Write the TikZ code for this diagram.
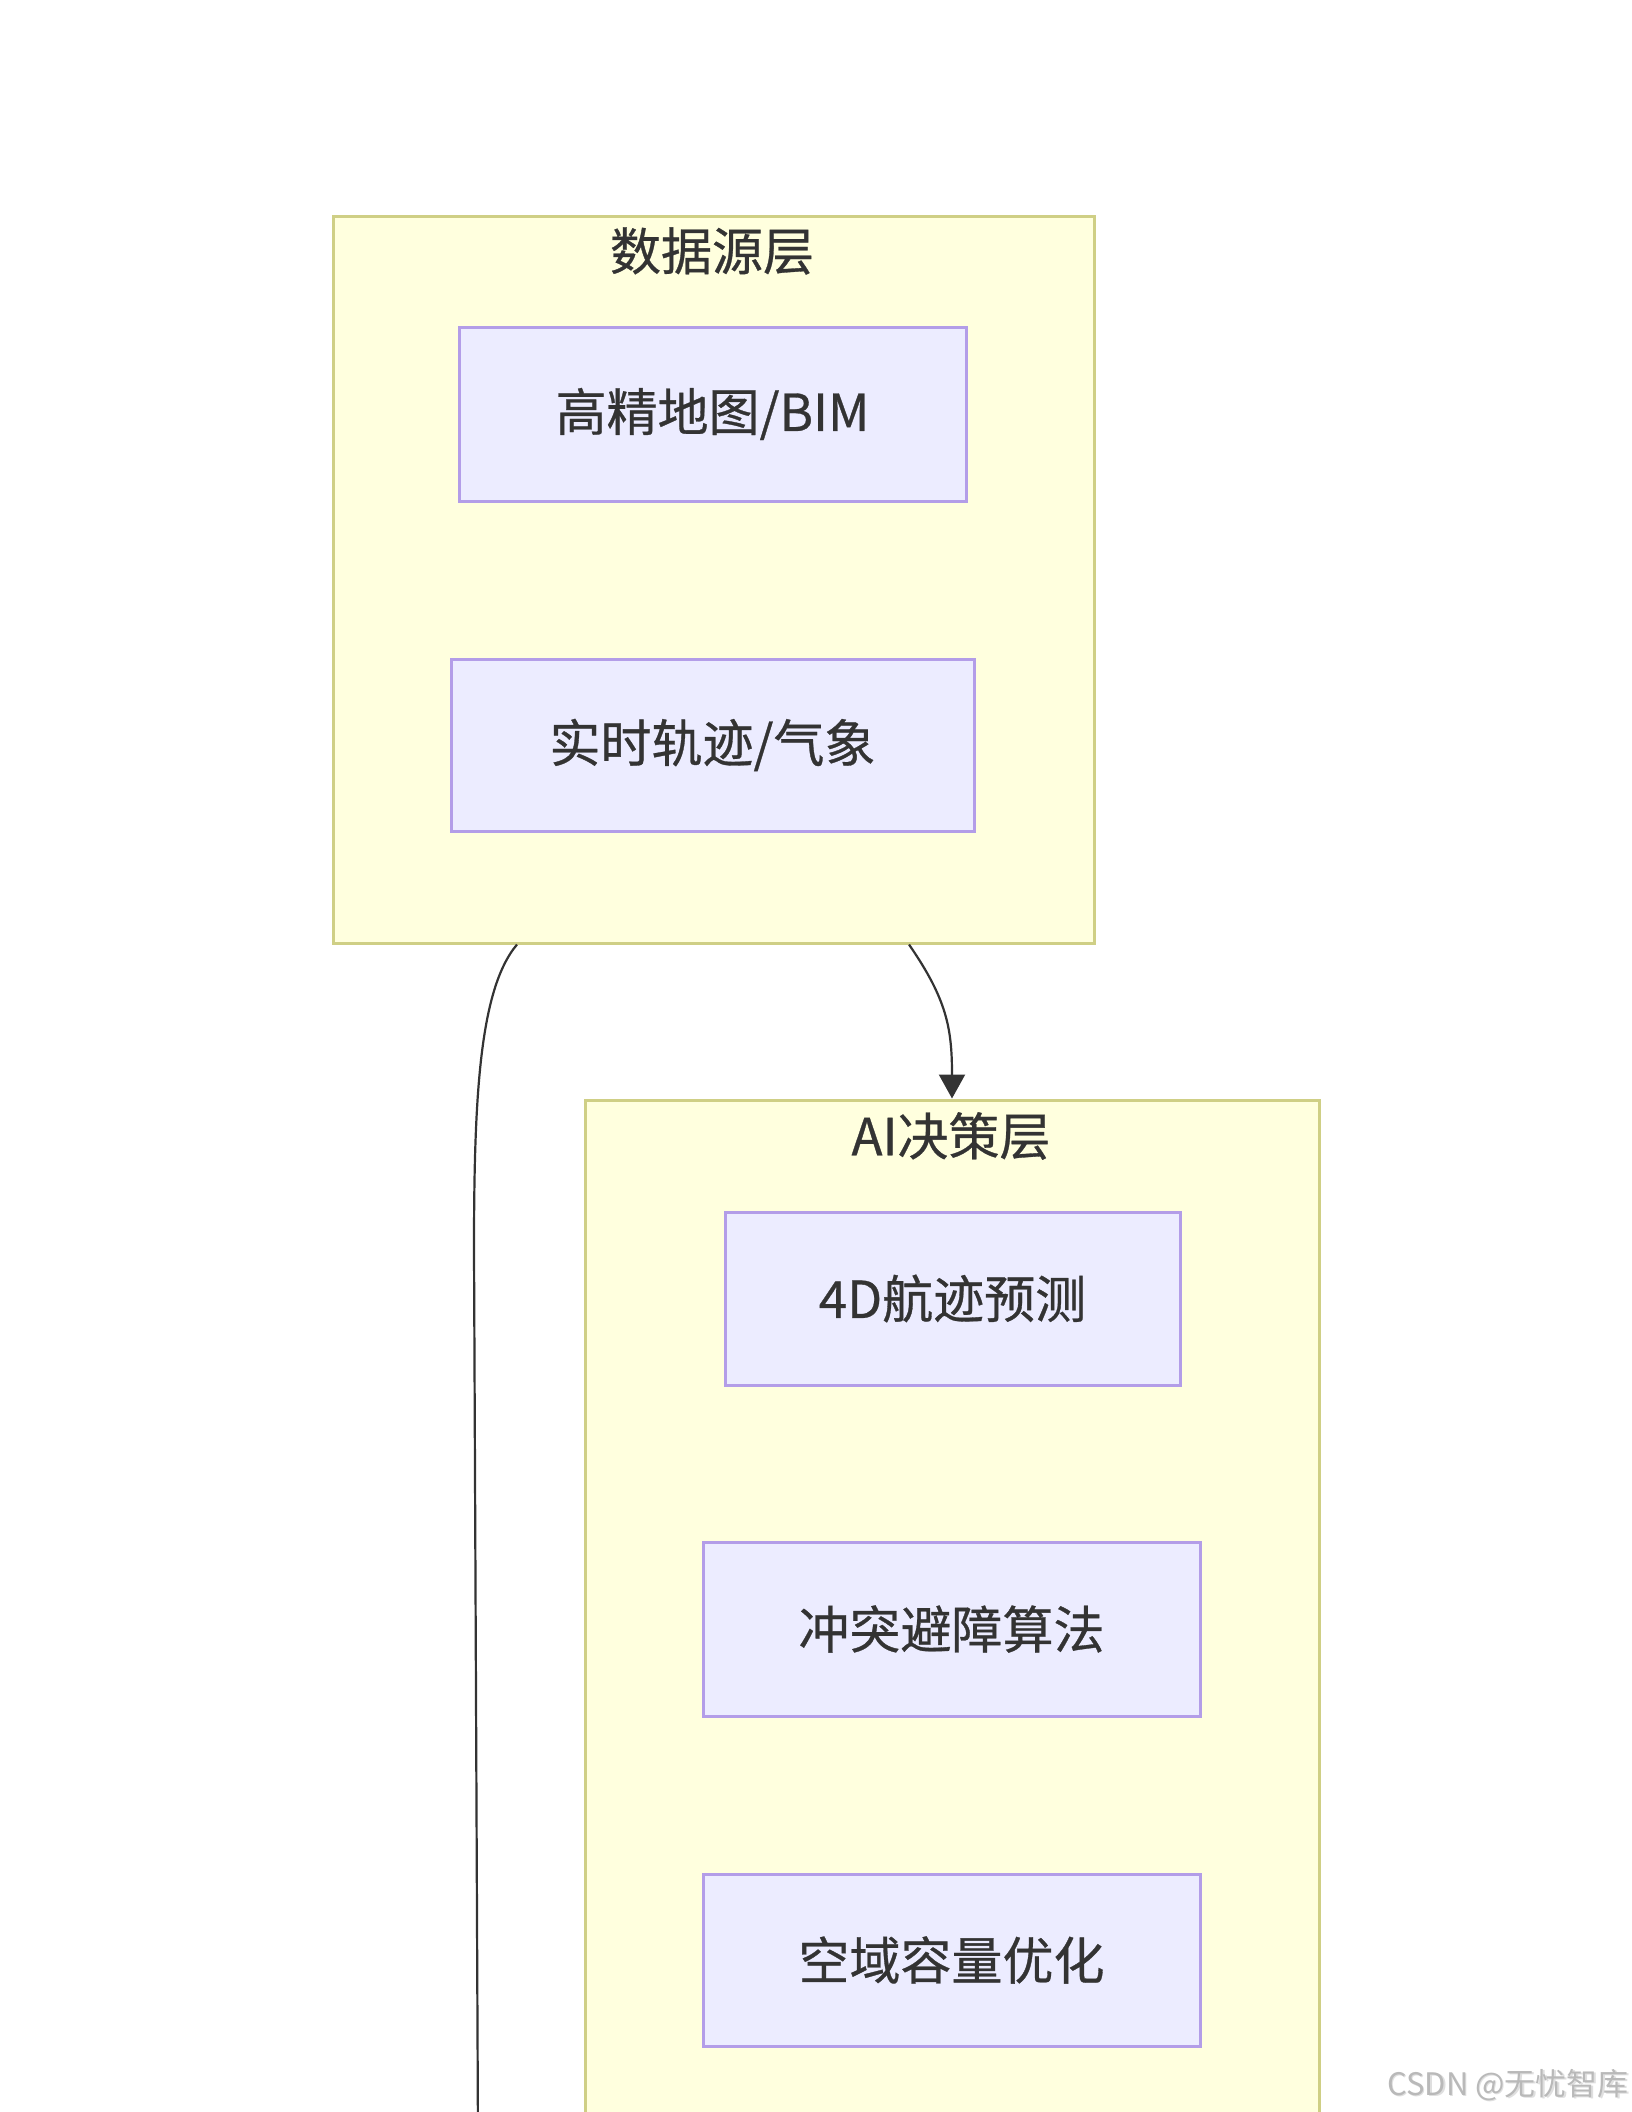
\documentclass[tikz,border=0pt]{standalone}
\usepackage{fontspec}
\setmainfont{Noto Sans CJK SC}[FakeBold=0.8]
\newfontfamily\mainlabel{Noto Sans CJK SC}[AutoFakeBold=0.6]
\newfontfamily\wmfont{Noto Sans CJK SC}
\usetikzlibrary{arrows.meta}
\definecolor{clfill}{HTML}{FFFFDE}
\definecolor{clstroke}{HTML}{CFCF85}
\definecolor{ndfill}{HTML}{ECECFF}
\definecolor{ndstroke}{HTML}{B39DE8}
\definecolor{txt}{HTML}{333333}
\definecolor{edgec}{HTML}{333333}
\tikzset{
  cluster/.style={draw=clstroke, fill=clfill, line width=3pt, inner sep=0pt, rectangle},
  box/.style={draw=ndstroke, fill=ndfill, line width=3pt, inner sep=0pt, rectangle, text=txt,
    font=\mainlabel\bfseries\fontsize{51}{58}\selectfont},
  ctitle/.style={text=txt, inner sep=0pt, font=\mainlabel\bfseries\fontsize{51}{58}\selectfont},
  edge/.style={draw=edgec, line width=2.2pt},
  arr/.style={edge, -{Triangle[length=24pt,width=26pt]}},
}
\begin{document}
\begin{tikzpicture}[x=1pt,y=-1pt]
\useasboundingbox (0,0) rectangle (1632,2112);
\clip (0,0) rectangle (1632,2112);
\fill[white] (0,0) rectangle (1632,2112);
% clusters
\node[cluster, minimum width=761pt, minimum height=727pt] (src) at (713.5,579.5) {};
\node[ctitle] (srct) at (712,251) {数据源层};
\node[cluster, minimum width=734pt, minimum height=1100pt] (ai) at (952,1650) {};
\node[ctitle] (ait) at (951,1136) {AI决策层};
% nodes
\node[box, minimum width=507pt, minimum height=174pt] (map) at (712.5,414) {高精地图/BIM};
\node[box, minimum width=523pt, minimum height=172pt] (rt) at (712.5,745) {实时轨迹/气象};
\node[box, minimum width=455pt, minimum height=173pt] (pred) at (952.5,1298.5) {4D航迹预测};
\node[box, minimum width=497pt, minimum height=174pt] (conf) at (951.5,1629) {冲突避障算法};
\node[box, minimum width=497pt, minimum height=172pt] (cap) at (951.5,1960) {空域容量优化};
% edges
\draw[arr] ([xshift=195.5pt]src.south) .. controls +(38,55) and +(0,-70) .. (ai.north);
\coordinate (offbot) at (478,2140);
\draw[edge] ([xshift=-196.5pt]src.south) .. controls +(-38,45) and +(0,-150) .. (474,1250) -- (offbot);
% watermark
\node[text=gray!25, inner sep=0pt, font=\wmfont\fontsize{31}{36}\selectfont] (wm2) at (1509.5,2086.5) {CSDN @无忧智库};
\node[text=gray!55, inner sep=0pt, font=\wmfont\fontsize{31}{36}\selectfont] (wm) at (1508,2085) {CSDN @无忧智库};
\end{tikzpicture}
\end{document}
